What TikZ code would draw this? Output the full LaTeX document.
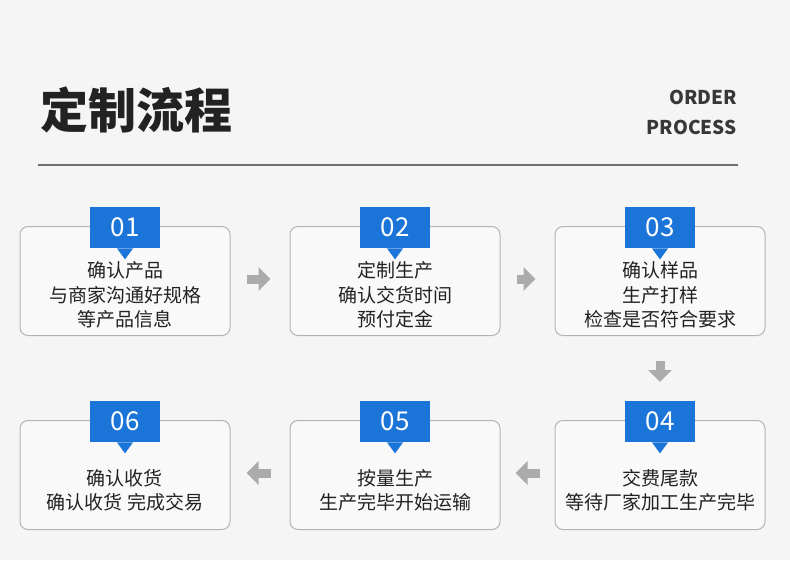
\documentclass[tikz,border=0pt]{standalone}
\usepackage{fontspec}
\newfontfamily\cjk{Noto Sans CJK SC}
\usetikzlibrary{arrows.meta}
\definecolor{bgc}{HTML}{F5F5F5}
\definecolor{boxfill}{HTML}{F9F9F9}
\definecolor{boxline}{HTML}{B4B4B4}
\definecolor{blueL}{HTML}{1B74D7}
\definecolor{txt}{HTML}{222222}
\definecolor{arrc}{HTML}{ABABAB}
\definecolor{rulec}{HTML}{6E6E6E}
\tikzset{
  stepbox/.style={draw=boxline, line width=1pt, fill=boxfill, rounded corners=8pt,
    minimum width=210pt, minimum height=109pt, inner sep=0pt},
  numlabel/.style={fill=blueL, text=white, minimum width=70pt, minimum height=41pt,
    inner sep=0pt, font=\cjk\fontsize{26}{26}\selectfont},
  bodytxt/.style={text=txt, align=center, inner sep=0pt,
    font=\cjk\fontsize{19}{24.5}\selectfont},
  flowarr/.style={draw=arrc, line width=9pt, -{Triangle[width=23pt,length=12pt]}},
}
\newcommand{\stepitem}[5]{%
  % #1 name, #2 x, #3 box top y, #4 number, #5 text y
  \node[stepbox, anchor=north] (b#1) at (#2,#3) {};
  \node[numlabel, anchor=north] (l#1) at (#2,#3-19) {#4};
  \fill[blueL] ([xshift=-8pt]l#1.south) -- ([xshift=8pt]l#1.south) -- ([yshift=-11pt]l#1.south) -- cycle;
}
\begin{document}
\begin{tikzpicture}[x=1pt,y=-1pt]
\useasboundingbox (0,0) rectangle (790,560);
\fill[bgc] (0,0) rectangle (790,560);
% header
\node[anchor=center, text=txt, inner sep=0pt, font=\cjk\bfseries\fontsize{48}{48}\selectfont] (title) at (136,110) {定制流程};
\node[anchor=base east, text=txt!90, inner sep=0pt, font=\cjk\bfseries\fontsize{19}{19}\selectfont] (order) at (737,104) {ORDER};
\node[anchor=base east, text=txt!90, inner sep=0pt, font=\cjk\bfseries\fontsize{19}{19}\selectfont] (process) at (737,134) {PROCESS};
\coordinate (ruleL) at (38,165);
\coordinate (ruleR) at (738,165);
\draw[rulec, line width=2.5pt] (ruleL) -- (ruleR);
% steps
\stepitem{1}{125}{226}{01}{}
\stepitem{2}{395}{226}{02}{}
\stepitem{3}{660}{226}{03}{}
\stepitem{4}{660}{420}{04}{}
\stepitem{5}{395}{420}{05}{}
\stepitem{6}{125}{420}{06}{}
\node[bodytxt] (t1) at (125,295) {确认产品\\与商家沟通好规格\\等产品信息};
\node[bodytxt] (t2) at (395,295) {定制生产\\确认交货时间\\预付定金};
\node[bodytxt] (t3) at (660,295) {确认样品\\生产打样\\检查是否符合要求};
\node[bodytxt] (t4) at (660,490.5) {交费尾款\\等待厂家加工生产完毕};
\node[bodytxt] (t5) at (395,490.5) {按量生产\\生产完毕开始运输};
\node[bodytxt] (t6) at (125,490.5) {确认收货\\确认收货 完成交易};
% arrows
\draw[flowarr, shorten <=16pt, shorten >=19pt] ([yshift=2pt]b1.east) -- ([yshift=2pt]b2.west);
\draw[flowarr, shorten <=16pt, shorten >=19pt] ([yshift=2pt]b2.east) -- ([yshift=2pt]b3.west);
\draw[flowarr, shorten <=25pt, shorten >=19pt] (b3.south) -- (l4.north);
\draw[flowarr, shorten <=15pt, shorten >=15pt] ([yshift=2pt]b4.west) -- ([yshift=2pt]b5.east);
\draw[flowarr, shorten <=19pt, shorten >=16pt] ([yshift=2pt]b5.west) -- ([yshift=2pt]b6.east);
\end{tikzpicture}
\end{document}
